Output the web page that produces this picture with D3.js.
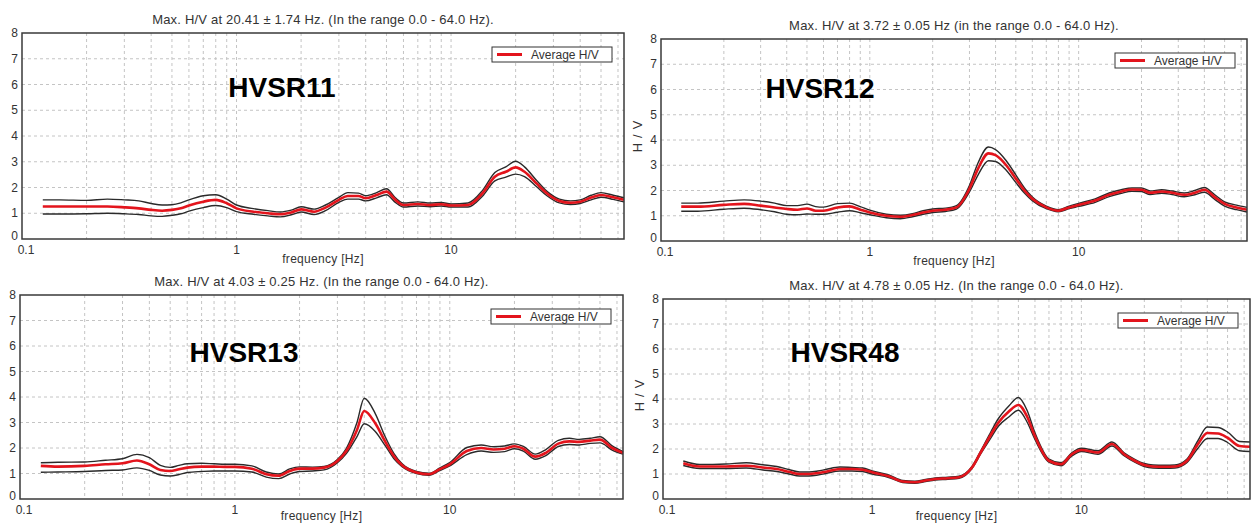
<!DOCTYPE html>
<html>
<head>
<meta charset="utf-8">
<script src="https://cdn.jsdelivr.net/npm/d3@7"></script>
<style>
  body { margin: 0; background: #fff; }
  svg { display: block; font-family: Arial, "Liberation Sans", sans-serif; }
</style>
</head>
<body>
<svg id="chart" width="1257" height="524"></svg>
<script>
// frequency samples [Hz] shared by all four curves
const freqs = [0.125, 0.15, 0.2, 0.25, 0.3, 0.35, 0.4, 0.45, 0.5, 0.55, 0.6, 0.7, 0.8, 0.9, 1.0,
  1.2, 1.4, 1.6, 1.8, 2.0, 2.3, 2.6, 3.0, 3.3, 3.7, 4.0, 4.5, 5.0, 5.5, 6.0, 7.0, 8.0, 9.0,
  10, 12, 14, 16, 18, 20, 22, 25, 28, 32, 36, 40, 45, 50, 57, 64];

const hv11Mean = [1.26, 1.26, 1.26, 1.26, 1.23, 1.19, 1.13, 1.10, 1.13, 1.19, 1.30, 1.45, 1.52, 1.39, 1.19,
  1.06, 1.00, 0.96, 1.03, 1.15, 1.06, 1.22, 1.52, 1.67, 1.67, 1.58, 1.71, 1.84, 1.52, 1.32, 1.36, 1.32, 1.35,
  1.30, 1.32, 1.77, 2.42, 2.61, 2.78, 2.61, 2.16, 1.77, 1.48, 1.41, 1.45, 1.61, 1.71, 1.62, 1.52];
const hv11Upper = [1.52, 1.52, 1.50, 1.55, 1.52, 1.48, 1.38, 1.32, 1.33, 1.40, 1.52, 1.68, 1.72, 1.55, 1.32,
  1.18, 1.10, 1.05, 1.12, 1.25, 1.16, 1.32, 1.62, 1.80, 1.78, 1.68, 1.80, 1.95, 1.60, 1.40, 1.44, 1.40, 1.42,
  1.36, 1.40, 1.88, 2.58, 2.80, 3.02, 2.80, 2.28, 1.85, 1.55, 1.48, 1.52, 1.70, 1.80, 1.70, 1.60];
const hv11Lower = [0.97, 0.97, 0.98, 1.00, 0.98, 0.95, 0.90, 0.88, 0.92, 0.98, 1.08, 1.22, 1.30, 1.22, 1.06,
  0.96, 0.90, 0.86, 0.94, 1.05, 0.95, 1.10, 1.42, 1.55, 1.55, 1.48, 1.60, 1.72, 1.42, 1.24, 1.28, 1.25, 1.28,
  1.24, 1.24, 1.66, 2.26, 2.40, 2.52, 2.42, 2.04, 1.68, 1.40, 1.34, 1.38, 1.52, 1.62, 1.54, 1.44];

const hv12Mean = [1.36, 1.36, 1.43, 1.47, 1.40, 1.33, 1.27, 1.24, 1.29, 1.20, 1.20, 1.33, 1.37, 1.24, 1.13,
  1.00, 0.96, 1.03, 1.13, 1.20, 1.24, 1.33, 2.07, 2.87, 3.47, 3.40, 3.00, 2.47, 2.00, 1.67, 1.33, 1.20, 1.33,
  1.43, 1.60, 1.83, 1.96, 2.04, 2.03, 1.91, 1.96, 1.91, 1.83, 1.91, 2.03, 1.73, 1.47, 1.33, 1.24];
const hv12Upper = [1.50, 1.50, 1.58, 1.63, 1.58, 1.50, 1.40, 1.40, 1.46, 1.36, 1.34, 1.48, 1.50, 1.36, 1.22,
  1.06, 1.02, 1.08, 1.20, 1.27, 1.30, 1.40, 2.20, 3.10, 3.72, 3.62, 3.18, 2.62, 2.10, 1.74, 1.38, 1.24, 1.38,
  1.49, 1.67, 1.90, 2.03, 2.10, 2.10, 1.98, 2.03, 1.98, 1.90, 2.00, 2.12, 1.82, 1.55, 1.42, 1.33];
const hv12Lower = [1.18, 1.18, 1.26, 1.30, 1.24, 1.16, 1.06, 1.04, 1.07, 1.06, 1.06, 1.14, 1.20, 1.12, 1.04,
  0.92, 0.88, 0.96, 1.06, 1.13, 1.17, 1.26, 1.94, 2.62, 3.18, 3.15, 2.80, 2.32, 1.90, 1.60, 1.28, 1.16, 1.28,
  1.37, 1.53, 1.76, 1.89, 1.97, 1.96, 1.84, 1.89, 1.84, 1.75, 1.83, 1.93, 1.64, 1.38, 1.24, 1.15];

const hv13Mean = [1.30, 1.27, 1.30, 1.36, 1.40, 1.51, 1.36, 1.14, 1.10, 1.17, 1.23, 1.27, 1.27, 1.26, 1.26,
  1.19, 0.97, 0.91, 1.10, 1.19, 1.19, 1.23, 1.49, 1.88, 2.71, 3.45, 2.97, 2.26, 1.68, 1.32, 1.04, 0.97, 1.17,
  1.36, 1.88, 2.00, 1.94, 1.97, 2.07, 1.97, 1.66, 1.81, 2.17, 2.26, 2.24, 2.29, 2.33, 2.00, 1.81];
const hv13Upper = [1.42, 1.44, 1.45, 1.52, 1.58, 1.75, 1.62, 1.32, 1.24, 1.32, 1.38, 1.40, 1.38, 1.36, 1.36,
  1.30, 1.06, 0.98, 1.18, 1.26, 1.25, 1.28, 1.55, 1.98, 3.00, 3.95, 3.35, 2.45, 1.78, 1.38, 1.08, 1.01, 1.22,
  1.43, 2.02, 2.12, 2.05, 2.08, 2.16, 2.06, 1.76, 1.94, 2.30, 2.38, 2.34, 2.38, 2.44, 2.08, 1.86];
const hv13Lower = [1.05, 1.06, 1.08, 1.12, 1.14, 1.22, 1.12, 0.94, 0.90, 0.96, 1.04, 1.08, 1.10, 1.10, 1.10,
  1.06, 0.86, 0.80, 0.98, 1.08, 1.10, 1.14, 1.42, 1.78, 2.45, 2.95, 2.65, 2.10, 1.58, 1.27, 1.00, 0.93, 1.12,
  1.30, 1.74, 1.88, 1.83, 1.86, 1.97, 1.88, 1.56, 1.70, 2.06, 2.14, 2.12, 2.18, 2.20, 1.92, 1.76];

const hv48Mean = [1.43, 1.30, 1.30, 1.33, 1.26, 1.20, 1.09, 1.00, 1.00, 1.04, 1.09, 1.20, 1.20, 1.17, 1.07,
  0.91, 0.70, 0.67, 0.74, 0.80, 0.83, 0.87, 1.26, 1.86, 2.58, 3.04, 3.50, 3.76, 3.30, 2.51, 1.53, 1.39, 1.79,
  1.96, 1.86, 2.20, 1.79, 1.53, 1.36, 1.30, 1.29, 1.30, 1.53, 2.18, 2.64, 2.62, 2.45, 2.12, 2.09];
const hv48Upper = [1.52, 1.38, 1.40, 1.45, 1.37, 1.30, 1.18, 1.08, 1.08, 1.12, 1.18, 1.28, 1.26, 1.24, 1.12,
  0.96, 0.74, 0.71, 0.78, 0.84, 0.87, 0.91, 1.30, 1.92, 2.70, 3.20, 3.72, 4.06, 3.55, 2.65, 1.60, 1.45, 1.85,
  2.03, 1.93, 2.28, 1.85, 1.59, 1.42, 1.36, 1.35, 1.36, 1.60, 2.32, 2.88, 2.86, 2.68, 2.30, 2.28];
const hv48Lower = [1.34, 1.22, 1.22, 1.24, 1.16, 1.10, 1.00, 0.92, 0.92, 0.96, 1.02, 1.12, 1.12, 1.10, 1.00,
  0.86, 0.66, 0.63, 0.70, 0.76, 0.79, 0.83, 1.22, 1.80, 2.45, 2.90, 3.28, 3.55, 3.08, 2.38, 1.47, 1.33, 1.72,
  1.90, 1.79, 2.12, 1.73, 1.47, 1.30, 1.24, 1.23, 1.24, 1.46, 2.02, 2.42, 2.42, 2.26, 1.93, 1.90];

const yTicks = [0, 1, 2, 3, 4, 5, 6, 7, 8];
const xTickLabels = [0.1, 1, 10];
const gridFreqs = [0.2, 0.3, 0.4, 0.5, 0.6, 0.7, 0.8, 0.9, 1, 2, 3, 4, 5, 6, 7, 8, 9, 10, 20, 30, 40, 50, 60];

const panels = [
  { name: "HVSR11", title: "Max. H/V at 20.41 \u00b1 1.74 Hz. (In the range 0.0 - 64.0 Hz).",
    left: 22, right: 624, top: 33, bottom: 239, labelX: 282, labelY: 97,
    mean: hv11Mean, upper: hv11Upper, lower: hv11Lower },
  { name: "HVSR12", title: "Max. H/V at 3.72 \u00b1 0.05 Hz (in the range 0.0 - 64.0 Hz).",
    left: 661, right: 1247, top: 39, bottom: 241, labelX: 820, labelY: 98,
    mean: hv12Mean, upper: hv12Upper, lower: hv12Lower },
  { name: "HVSR13", title: "Max. H/V at 4.03 \u00b1 0.25 Hz. (In the range 0.0 - 64.0 Hz).",
    left: 20, right: 623, top: 295, bottom: 499, labelX: 244, labelY: 362,
    mean: hv13Mean, upper: hv13Upper, lower: hv13Lower },
  { name: "HVSR48", title: "Max. H/V at 4.78 \u00b1 0.05 Hz. (In the range 0.0 - 64.0 Hz).",
    left: 663, right: 1250, top: 299, bottom: 499, labelX: 845, labelY: 362,
    mean: hv48Mean, upper: hv48Upper, lower: hv48Lower }
];

const svg = d3.select("#chart");
const textColor = "#333";

panels.forEach(function(p) {
  const g = svg.append("g");
  const x = d3.scaleLog().domain([0.1, 64]).range([p.left, p.right]);
  const y = d3.scaleLinear().domain([0, 8]).range([p.bottom, p.top]);

  // dotted grid
  g.selectAll(".vgrid").data(gridFreqs).enter().append("line")
    .attr("x1", d => x(d)).attr("x2", d => x(d))
    .attr("y1", p.top).attr("y2", p.bottom)
    .attr("stroke", "#c4c4c4").attr("stroke-dasharray", "3,3");
  g.selectAll(".hgrid").data(yTicks.slice(1, -1)).enter().append("line")
    .attr("x1", p.left).attr("x2", p.right)
    .attr("y1", d => y(d)).attr("y2", d => y(d))
    .attr("stroke", "#c4c4c4").attr("stroke-dasharray", "3,3");

  // curves
  const pts = arr => arr.map((v, i) => [freqs[i], v]);
  const line = d3.line().x(d => x(d[0])).y(d => y(d[1])).curve(d3.curveMonotoneX);

  g.append("path").attr("d", line(pts(p.upper)))
    .attr("fill", "none").attr("stroke", "#2a2a2a").attr("stroke-width", 1.4);
  g.append("path").attr("d", line(pts(p.lower)))
    .attr("fill", "none").attr("stroke", "#2a2a2a").attr("stroke-width", 1.4);
  g.append("path").attr("d", line(pts(p.mean)))
    .attr("fill", "none").attr("stroke", "#e3141c").attr("stroke-width", 2.6);

  // frame
  g.append("rect")
    .attr("x", p.left).attr("y", p.top)
    .attr("width", p.right - p.left).attr("height", p.bottom - p.top)
    .attr("fill", "none").attr("stroke", "#3a3a3a").attr("stroke-width", 1.5);

  // y tick labels
  g.selectAll(".ylab").data(yTicks).enter().append("text")
    .attr("x", p.left - 4).attr("y", d => y(d))
    .attr("dy", d => d === 0 ? "0.1em" : "0.35em")
    .attr("text-anchor", "end")
    .style("font-size", "12px").style("fill", textColor)
    .text(d => d);

  // x tick labels
  g.selectAll(".xlab").data(xTickLabels).enter().append("text")
    .attr("x", d => x(d) + (d === 0.1 ? 4 : 0)).attr("y", p.bottom + 15)
    .attr("text-anchor", "middle")
    .style("font-size", "12px").style("fill", textColor)
    .text(d => d);

  // bottom panels sit at the page edge, keep their label inside it
  g.append("text")
    .attr("x", (p.left + p.right) / 2).attr("y", Math.min(p.bottom + 24, 520))
    .attr("text-anchor", "middle")
    .style("font-size", "12px").style("letter-spacing", "0.3px").style("fill", textColor)
    .text("frequency [Hz]");

  // title
  g.append("text")
    .attr("x", (p.left + p.right) / 2).attr("y", p.top - 9)
    .attr("text-anchor", "middle")
    .style("font-size", "13px").style("letter-spacing", "0.2px").style("fill", textColor)
    .text(p.title);

  // y axis title (only visible for the right hand panels)
  if (p.left > 100) {
    g.append("text")
      .attr("transform", "translate(" + (p.left - 19) + "," + ((p.top + p.bottom) / 2 - 6) + ") rotate(-90)")
      .attr("text-anchor", "middle")
      .style("font-size", "13px").style("letter-spacing", "5px").style("fill", textColor)
      .text("H/V");
  }

  // station name
  g.append("text")
    .attr("x", p.labelX).attr("y", p.labelY)
    .attr("text-anchor", "middle")
    .style("font-size", "28px").style("font-weight", "bold").style("fill", "#000")
    .text(p.name);

  // legend
  const lx = p.right - 132, ly = p.top + 14;
  g.append("rect")
    .attr("x", lx).attr("y", ly).attr("width", 120).attr("height", 15)
    .attr("fill", "#fff").attr("stroke", "#333").attr("stroke-width", 1);
  g.append("line")
    .attr("x1", lx + 5).attr("x2", lx + 30).attr("y1", ly + 7.5).attr("y2", ly + 7.5)
    .attr("stroke", "#e3141c").attr("stroke-width", 3);
  g.append("text")
    .attr("x", lx + 39).attr("y", ly + 11.8)
    .style("font-size", "12px").style("fill", textColor)
    .text("Average H/V");
});
</script>
</body>
</html>
